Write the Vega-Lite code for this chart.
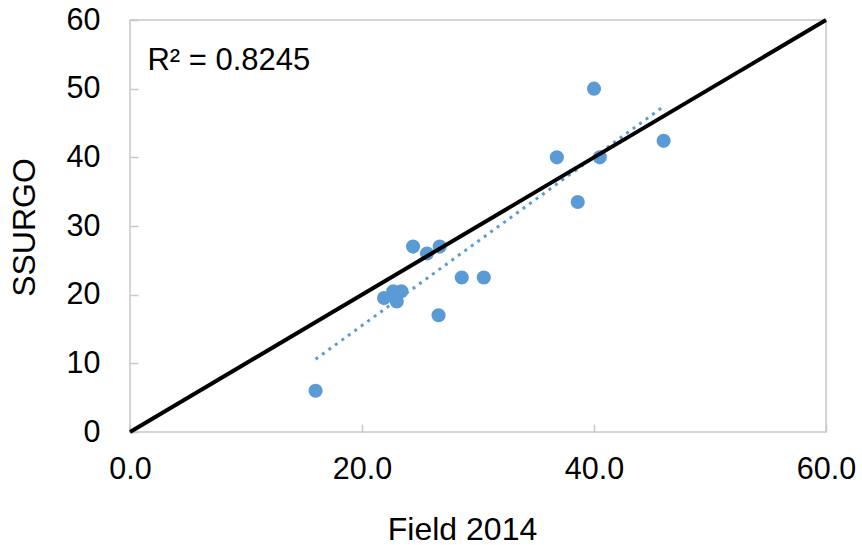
{
  "$schema": "https://vega.github.io/schema/vega-lite/v6.json",
  "width": 696,
  "height": 412,
  "autosize": {"type": "none"},
  "padding": {"left": 130, "top": 20, "right": 36, "bottom": 113},
  "background": "white",
  "config": {
    "font": "Liberation Sans",
    "view": {"stroke": "#c8c8c8", "strokeWidth": 1.5},
    "axis": {
      "grid": false,
      "domain": false,
      "labelFlush": false,
      "tickColor": "#c8c8c8",
      "tickWidth": 1.5,
      "labelFont": "Liberation Sans",
      "labelFontSize": 30.5,
      "labelColor": "#000000",
      "titleFont": "Liberation Sans",
      "titleFontSize": 32,
      "titleFontWeight": "normal",
      "titleColor": "#000000"
    }
  },
  "datasets": {
    "pts": [
      {"field2014": 16.0, "ssurgo": 6.0},
      {"field2014": 21.9, "ssurgo": 19.5},
      {"field2014": 22.7, "ssurgo": 20.5},
      {"field2014": 23.4, "ssurgo": 20.5},
      {"field2014": 23.0, "ssurgo": 19.0},
      {"field2014": 24.4, "ssurgo": 27.0},
      {"field2014": 25.6, "ssurgo": 26.0},
      {"field2014": 26.7, "ssurgo": 27.0},
      {"field2014": 26.6, "ssurgo": 17.0},
      {"field2014": 28.6, "ssurgo": 22.5},
      {"field2014": 30.5, "ssurgo": 22.5},
      {"field2014": 36.8, "ssurgo": 40.0},
      {"field2014": 38.6, "ssurgo": 33.5},
      {"field2014": 40.0, "ssurgo": 50.0},
      {"field2014": 40.5, "ssurgo": 40.0},
      {"field2014": 46.0, "ssurgo": 42.4}
    ],
    "oneToOne": [
      {"field2014": 0, "ssurgo": 0},
      {"field2014": 60, "ssurgo": 60}
    ],
    "trend": [
      {"field2014": 16.0, "ssurgo": 10.6},
      {"field2014": 46.0, "ssurgo": 47.4}
    ],
    "label": [
      {"field2014": 1.5, "ssurgo": 52.7, "text": "R² = 0.8245"}
    ]
  },
  "layer": [
    {
      "data": {"name": "trend"},
      "mark": {"type": "line", "color": "#5b9bd5", "strokeWidth": 3, "strokeDash": [3, 5]},
      "encoding": {
        "x": {"field": "field2014", "type": "quantitative"},
        "y": {"field": "ssurgo", "type": "quantitative"}
      }
    },
    {
      "data": {"name": "pts"},
      "mark": {"type": "circle", "color": "#5b9bd5", "opacity": 1, "size": 200},
      "encoding": {
        "x": {"field": "field2014", "type": "quantitative",
          "scale": {"domain": [0, 60], "nice": false},
          "axis": {"title": "Field 2014", "values": [0, 20, 40, 60], "format": ".1f", "tickSize": -8, "labelPadding": 30, "labelFlush": false,
            "titleBaseline": "alphabetic", "titleAlign": "center", "titleX": 332, "titleY": 107}},
        "y": {"field": "ssurgo", "type": "quantitative",
          "scale": {"domain": [0, 60], "nice": false},
          "axis": {"title": "SSURGO", "values": [0, 10, 20, 30, 40, 50, 60], "format": "d", "tickSize": -8, "labelPadding": 38, "labelFlush": false,
            "titleBaseline": "alphabetic", "titleAlign": "center", "titleAngle": -90, "titleX": -96, "titleY": 207}}
      }
    },
    {
      "data": {"name": "oneToOne"},
      "mark": {"type": "line", "color": "#000000", "strokeWidth": 4},
      "encoding": {
        "x": {"field": "field2014", "type": "quantitative"},
        "y": {"field": "ssurgo", "type": "quantitative"}
      }
    },
    {
      "data": {"name": "label"},
      "mark": {"type": "text", "align": "left", "baseline": "alphabetic", "fontSize": 31, "font": "Liberation Sans", "color": "#000000"},
      "encoding": {
        "x": {"field": "field2014", "type": "quantitative"},
        "y": {"field": "ssurgo", "type": "quantitative"},
        "text": {"field": "text"}
      }
    }
  ]
}
